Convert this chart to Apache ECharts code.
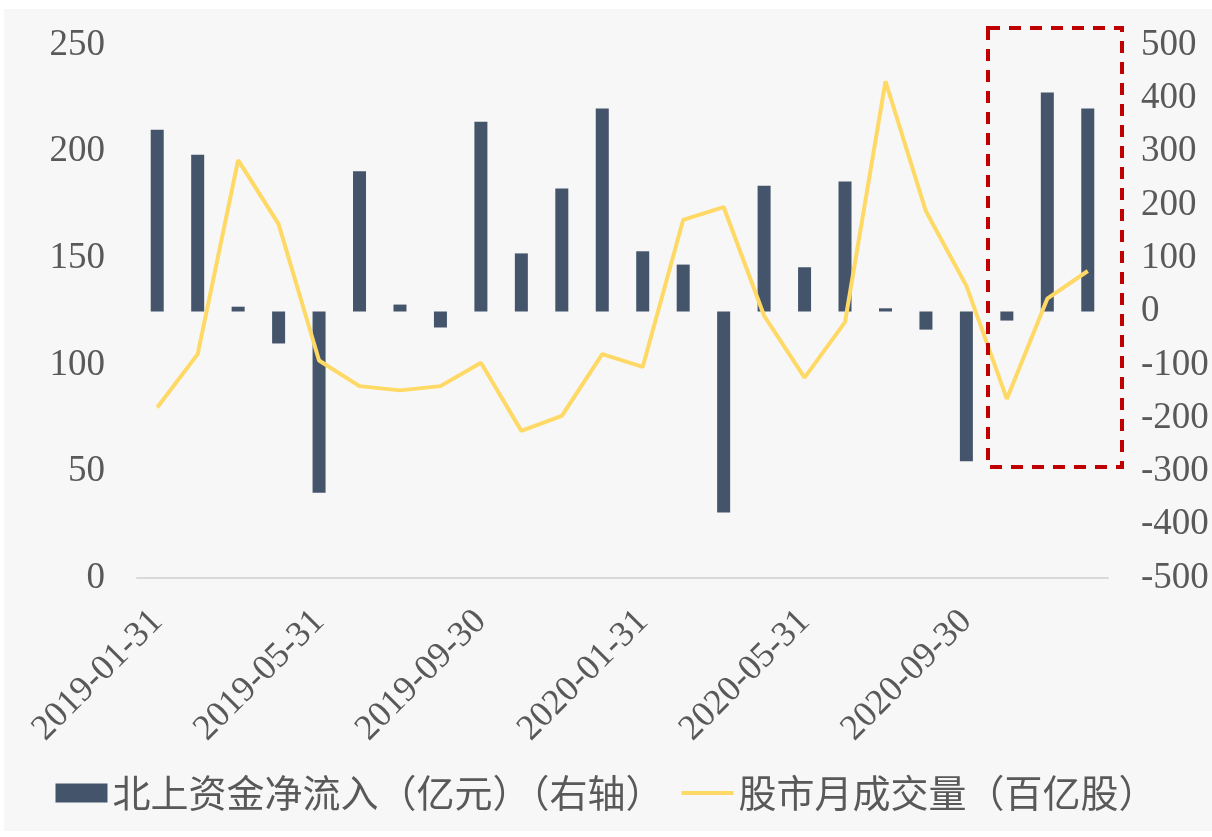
<!DOCTYPE html>
<html>
<head>
<meta charset="utf-8">
<style>
  html, body { margin: 0; padding: 0; background: #fff; }
  #chart { width: 1212px; height: 837px; }
</style>
<script src="https://cdn.jsdelivr.net/npm/echarts@6/dist/echarts.min.js"></script>
</head>
<body>
<div id="chart"></div>
<script>
// 月末日期
const months = [
    '2019-01-31', '2019-02-28', '2019-03-31', '2019-04-30', '2019-05-31', '2019-06-30',
    '2019-07-31', '2019-08-31', '2019-09-30', '2019-10-31', '2019-11-30', '2019-12-31',
    '2020-01-31', '2020-02-29', '2020-03-31', '2020-04-30', '2020-05-31', '2020-06-30',
    '2020-07-31', '2020-08-31', '2020-09-30', '2020-10-31', '2020-11-30', '2020-12-31'
];

// 北上资金净流入（亿元）（右轴）
const northFlow = [
    341, 294, 9, -60, -340, 263, 13, -30, 356, 109, 231, 381,
    113, 88, -377, 236, 83, 244, 6, -34, -281, -17, 411, 381
];

// 股市月成交量（百亿股）
const volume = [
    80, 105, 196, 166, 102, 90, 88, 90, 101, 69, 76, 105,
    99, 168, 174, 123, 94, 120, 233, 172, 137, 84, 131, 144
];

const leftTicks = { min: 0, max: 250, interval: 50 };
const rightTicks = { min: -500, max: 500, interval: 100 };

const numFont = '"Liberation Serif", "Times New Roman", serif';
const cjkFont = '"Noto Sans CJK SC", sans-serif';
const textColor = '#595959';

const chart = echarts.init(document.getElementById('chart'));

chart.setOption({
    animation: false,
    backgroundColor: '#fff',
    graphic: [
        {
            type: 'rect',
            z: -10,
            silent: true,
            shape: { x: 4, y: 9, width: 1208, height: 822 },
            style: { fill: '#f7f7f7' }
        },
        {
            // 红色虚线框：最近三个月
            type: 'rect',
            z: 100,
            silent: true,
            shape: { x: 988, y: 28, width: 134, height: 439 },
            style: { fill: 'none', stroke: '#c00000', lineWidth: 4, lineDash: [12, 9] }
        }
    ],
    grid: { left: 137, right: 104, top: 45, bottom: 259 },
    legend: {
        bottom: 20,
        left: 'center',
        itemWidth: 52,
        itemHeight: 19,
        itemGap: 18,
        textStyle: { color: textColor, fontSize: 38, fontFamily: cjkFont },
        data: [
            { name: '北上资金净流入（亿元）（右轴）', icon: 'rect' },
            { name: '股市月成交量（百亿股）', icon: 'path://M0,0L52,0L52,4L0,4Z' }
        ]
    },
    xAxis: {
        type: 'category',
        data: months,
        boundaryGap: true,
        axisLine: { lineStyle: { color: '#d9d9d9', width: 2 } },
        axisTick: { show: false },
        axisLabel: {
            interval: 3,
            rotate: 45,
            margin: 38,
            color: textColor,
            fontSize: 36,
            fontFamily: numFont
        },
        splitLine: { show: false }
    },
    yAxis: [
        {
            type: 'value',
            position: 'left',
            min: leftTicks.min,
            max: leftTicks.max,
            interval: leftTicks.interval,
            axisLine: { show: false },
            axisTick: { show: false },
            splitLine: { show: false },
            axisLabel: { color: textColor, fontSize: 37, fontFamily: numFont, margin: 32 }
        },
        {
            type: 'value',
            position: 'right',
            min: rightTicks.min,
            max: rightTicks.max,
            interval: rightTicks.interval,
            axisLine: { show: false },
            axisTick: { show: false },
            splitLine: { show: false },
            axisLabel: { color: textColor, fontSize: 37, fontFamily: numFont, margin: 33 }
        }
    ],
    series: [
        {
            name: '北上资金净流入（亿元）（右轴）',
            type: 'bar',
            yAxisIndex: 1,
            barWidth: 13,
            itemStyle: { color: '#44546a' },
            data: northFlow
        },
        {
            name: '股市月成交量（百亿股）',
            type: 'line',
            yAxisIndex: 0,
            symbol: 'none',
            lineStyle: { color: '#ffd966', width: 4 },
            itemStyle: { color: '#ffd966' },
            data: volume
        }
    ]
});
</script>
</body>
</html>
